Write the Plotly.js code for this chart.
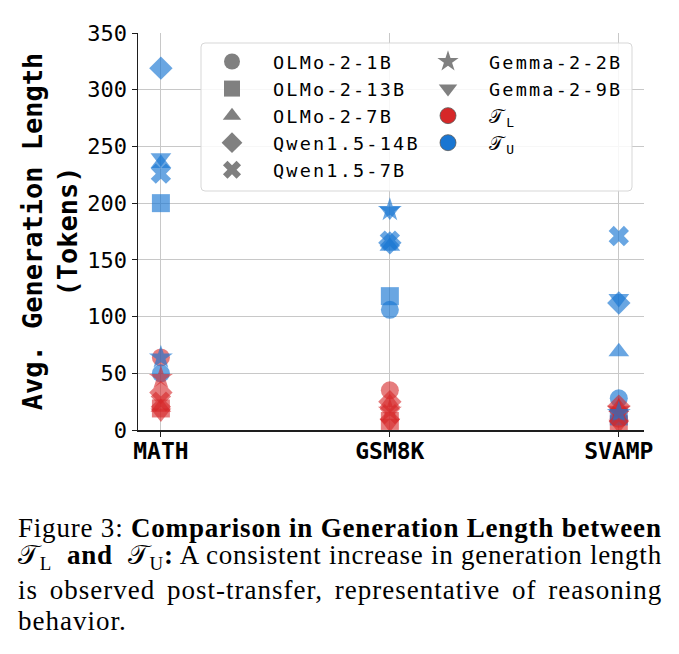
<!DOCTYPE html>
<html>
<head>
<meta charset="utf-8">
<script src="https://cdn.plot.ly/plotly-3.0.1.min.js"></script>
<style>
html,body{margin:0;padding:0;background:#fff;}
#chart{width:679px;height:654px;}
</style>
</head>
<body>
<div id="chart"></div>
<script>
// ---- data ----
const categories = ['MATH', 'GSM8K', 'SVAMP'];
const models = ['OLMo-2-1B', 'OLMo-2-13B', 'OLMo-2-7B', 'Qwen1.5-14B', 'Qwen1.5-7B', 'Gemma-2-2B', 'Gemma-2-9B'];
const modelSymbols = ['circle', 'square', 'triangle-up', 'diamond', 'x', 'star', 'triangle-down'];
// T_L (before transfer) average generation length, per model: [MATH, GSM8K, SVAMP]
const lowOLMo1B   = [64, 35, 10];
const lowOLMo13B  = [19, 8, 5];
const lowOLMo7B   = [20, 24, 20];
const lowQwen14B  = [33, 25, 21];
const lowQwen7B   = [25, 14, 12];
const lowGemma2B  = [46, 17, 18];
const lowGemma9B  = [15, 6, 5];
// T_U (after transfer)
const upOLMo1B    = [50, 106, 28];
const upOLMo13B   = [200, 118, 12];
const upOLMo7B    = [235, 162, 69];
const upQwen14B   = [319, 165, 112];
const upQwen7B    = [226, 167, 171];
const upGemma2B   = [64, 194, 15];
const upGemma9B   = [240, 193, 116];
const lowSeries = [lowOLMo1B, lowOLMo13B, lowOLMo7B, lowQwen14B, lowQwen7B, lowGemma2B, lowGemma9B];
const upSeries  = [upOLMo1B, upOLMo13B, upOLMo7B, upQwen14B, upQwen7B, upGemma2B, upGemma9B];
const yTicks = [0, 50, 100, 150, 200, 250, 300, 350];
const legendCol2Labels = ['𝒯<sub>L</sub>', '𝒯<sub>U</sub>'];
const captionLines = [
  'Figure 3: <b>Comparison in Generation Length between</b>',
  '𝒯<sub>L</sub>  <b>and</b>  𝒯<sub>U</sub><b>:</b> A consistent increase in generation length',
  'is observed post-transfer, representative of reasoning',
  'behavior.'
];

// ---- style ----
const RED = 'rgb(214,39,40)';
const BLUE = 'rgb(25,118,210)';
const GRAY = 'rgb(128,128,128)';
const MONO = 'DejaVu Sans Mono, monospace';
const MS = 18;
const legStyle = s => '<span style="letter-spacing:2.2px">' + s + '</span>';

const traces = [];
models.forEach((m, i) => {
  traces.push({
    type: 'scatter', mode: 'markers', x: categories, y: lowSeries[i], showlegend: false,
    marker: {symbol: modelSymbols[i], size: MS, color: RED, opacity: 0.6, line: {width: 0}},
    hoverinfo: 'skip'
  });
  traces.push({
    type: 'scatter', mode: 'markers', x: categories, y: upSeries[i], showlegend: false,
    marker: {symbol: modelSymbols[i], size: MS, color: BLUE, opacity: 0.65, line: {width: 0}},
    hoverinfo: 'skip'
  });
});
// legend entries (column 1: models 0-4, column 2: models 5-6 + T_L, T_U)
models.forEach((m, i) => {
  traces.push({
    type: 'scatter', mode: 'markers', x: [null], y: [null], name: legStyle(m),
    legend: i < 5 ? 'legend' : 'legend2',
    marker: {symbol: modelSymbols[i], size: 16, color: GRAY}
  });
});
[RED, BLUE].forEach((c, j) => {
  traces.push({
    type: 'scatter', mode: 'markers', x: [null], y: [null], name: legStyle(legendCol2Labels[j]),
    legend: 'legend2',
    marker: {symbol: 'circle', size: 16, color: c, line: {width: 0.8, color: 'rgb(90,90,90)'}}
  });
});

const L = 138, R = 644, T = 33, B = 430;
const W = 679, H = 654;
const pw = R - L, ph = B - T;
const px = v => (v - L) / pw;
const py = v => (B - v) / ph;

const capStyles = [
  'letter-spacing:0.8px',
  'letter-spacing:0.75px',
  'letter-spacing:1px;word-spacing:4px',
  'letter-spacing:1px'
];
const annotations = captionLines.map((t, k) => ({
  text: '<span style="' + capStyles[k] + '">' + t + '</span>',
  xref: 'paper', yref: 'paper', x: px(16), y: py([545, 576, 607, 638][k]),
  xanchor: 'left', yanchor: 'bottom', showarrow: false, align: 'left',
  font: {family: 'Liberation Serif, serif', size: 27, color: '#000'}
}));

// rounded legend frame
const fx0 = px(201), fx1 = px(632), fy0 = py(191), fy1 = py(43);
const rx = 4 / pw, ry = 4 / ph;
const framePath = `M ${fx0 + rx} ${fy1} L ${fx1 - rx} ${fy1} Q ${fx1} ${fy1} ${fx1} ${fy1 - ry} ` +
  `L ${fx1} ${fy0 + ry} Q ${fx1} ${fy0} ${fx1 - rx} ${fy0} L ${fx0 + rx} ${fy0} Q ${fx0} ${fy0} ${fx0} ${fy0 + ry} ` +
  `L ${fx0} ${fy1 - ry} Q ${fx0} ${fy1} ${fx0 + rx} ${fy1} Z`;

const layout = {
  width: W, height: H,
  margin: {l: L, r: W - R, t: T, b: H - B},
  paper_bgcolor: '#fff', plot_bgcolor: '#fff',
  showlegend: true,
  xaxis: {
    type: 'category', range: [-0.1, 2.11],
    showgrid: true, gridcolor: 'rgb(200,200,200)', gridwidth: 1,
    showline: true, linecolor: 'rgb(30,30,30)', linewidth: 1.5,
    ticks: 'outside', ticklen: 5, tickcolor: 'rgb(30,30,30)',
    ticklabelstandoff: -5,
    tickfont: {family: MONO, size: 23, color: '#000', weight: 'bold'},
    zeroline: false
  },
  yaxis: {
    range: [0, 350], tickvals: yTicks, ticktext: yTicks.map(String),
    showgrid: true, gridcolor: 'rgb(200,200,200)', gridwidth: 1,
    showline: true, linecolor: 'rgb(30,30,30)', linewidth: 1.5,
    ticks: 'outside', ticklen: 5, tickcolor: 'rgb(30,30,30)',
    tickfont: {family: MONO, size: 22, color: '#000'},
    zeroline: false,
    title: {text: '<b>Avg. Generation Length</b><br><b>(Tokens)</b>', standoff: 2,
            font: {family: MONO, size: 27, color: '#000'}}
  },
  legend: {
    x: px(191), y: py(43), xanchor: 'left', yanchor: 'top',
    bgcolor: 'rgba(0,0,0,0)', borderwidth: 0, itemwidth: 72,
    font: {family: MONO, size: 18.5, color: '#000'}, tracegroupgap: 0
  },
  legend2: {
    x: px(407), y: py(43), xanchor: 'left', yanchor: 'top',
    bgcolor: 'rgba(0,0,0,0)', borderwidth: 0, itemwidth: 72,
    font: {family: MONO, size: 18.5, color: '#000'}, tracegroupgap: 0
  },
  shapes: [{
    type: 'path', xref: 'paper', yref: 'paper', layer: 'above', path: framePath,
    fillcolor: 'rgba(255,255,255,0.85)', line: {color: 'rgb(215,215,215)', width: 1}
  }],
  annotations: annotations
};

Plotly.newPlot('chart', traces, layout, {displayModeBar: false, staticPlot: true});
</script>
</body>
</html>
